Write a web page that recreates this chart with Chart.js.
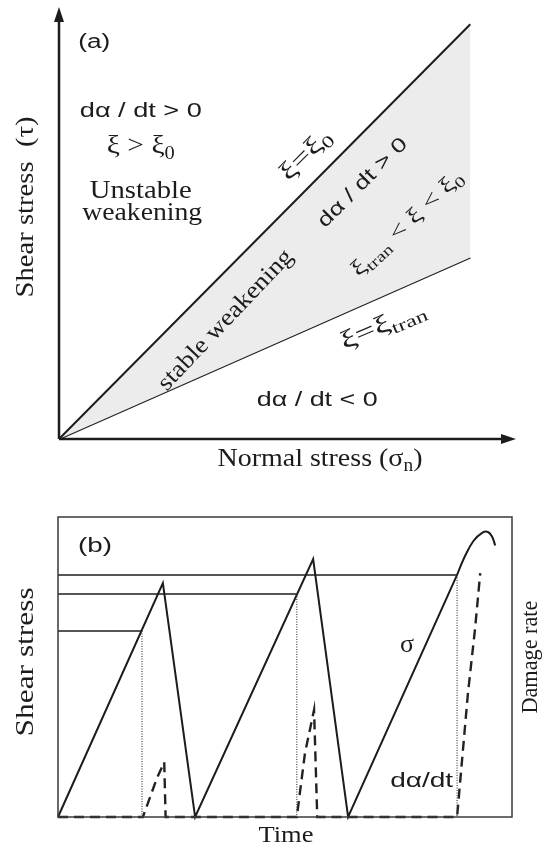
<!DOCTYPE html>
<html>
<head>
<meta charset="utf-8">
<script src="https://cdn.jsdelivr.net/npm/chart.js@4.4.1/dist/chart.umd.min.js"></script>
<style>
  html, body { margin: 0; padding: 0; background: #fff; }
  #wrap { position: relative; width: 542px; height: 846px; }
  canvas { position: absolute; left: 0; }
  #panelA { top: 0; }
  #panelB { top: 480px; }
</style>
</head>
<body>
<div id="wrap">
  <canvas id="panelA" width="542" height="480"></canvas>
  <canvas id="panelB" width="542" height="366"></canvas>
</div>
<script>
/* ---------------- DATA ---------------- */

// panel (a): failure envelopes in (normal stress, shear stress)
const normalStress = [0, 9];
const tauXi0 = [0, 9.6];      // xi = xi_0
const tauXiTran = [0, 4.2];   // xi = xi_tran

// panel (b): stress history vs time
const stressTime = [0, 23.1, 30.2, 56.2, 63.9, 87.9];
const stressValue = [0, 78, 0, 86, 0, 80.7];
const capTime = [87.9, 89.5, 91.5, 93.5, 94.7, 95.6, 96.3];
const capValue = [80.7, 86.5, 92, 94.8, 95, 93.5, 90.5];

const thresholdLevel = [62, 74.3, 80.7];
const thresholdTime = [18.5, 52.6, 87.9];

// damage rate (dashed)
const damageTime = [0, 18.7, 20.3, 21.8, 23.4, 23.7, 52.6, 54.4, 56.4, 57.1, 87.9, 89.0, 90.3, 91.9, 93.0];
const damageValue = [0, 0, 6.7, 13, 18.3, 0, 0, 21.3, 35.7, 0, 0, 19, 41.3, 63.3, 81.3];

/* ---------------- STYLE ---------------- */

const INK = "#1c1c1c";
const SANS = '"Liberation Sans", Arial, sans-serif';
const SERIF = '"Liberation Serif", "Times New Roman", serif';

function pts(xs, ys) {
  return xs.map((x, i) => ({ x: x, y: ys[i] }));
}

function line(data, extra) {
  return Object.assign({
    data: data,
    showLine: true,
    borderColor: INK,
    borderWidth: 2,
    pointRadius: 0,
    fill: false,
    clip: false,
    tension: 0
  }, extra || {});
}

function fontOf(L, sub) {
  const s = sub ? Math.round(L.size * 0.68) : L.size;
  return s + "px " + L.font;
}

function drawLabel(chart, L) {
  const ctx = chart.ctx;
  const px = chart.scales.x.getPixelForValue(L.x);
  const py = chart.scales.y.getPixelForValue(L.y);
  ctx.save();
  ctx.translate(px, py);
  if (L.angle) ctx.rotate(L.angle * Math.PI / 180);
  const widths = L.parts.map(p => { ctx.font = fontOf(L, p[1]); return ctx.measureText(p[0]).width; });
  const total = widths.reduce((a, b) => a + b, 0);
  if (L.len) ctx.scale(L.len / total, 1);
  ctx.textBaseline = "middle";
  ctx.fillStyle = INK;
  let cx = -total / 2;
  L.parts.forEach((p, i) => {
    ctx.font = fontOf(L, p[1]);
    ctx.fillText(p[0], cx, p[1] ? L.size * 0.3 : 0);
    cx += widths[i];
  });
  ctx.restore();
}

function arrow(ctx, x0, y0, x1, y1) {
  const a = Math.atan2(y1 - y0, x1 - x0);
  const len = 15, half = 5;
  ctx.beginPath();
  ctx.moveTo(x0, y0);
  ctx.lineTo(x1 - len * Math.cos(a), y1 - len * Math.sin(a));
  ctx.stroke();
  ctx.beginPath();
  ctx.moveTo(x1, y1);
  ctx.lineTo(x1 - len * Math.cos(a) + half * Math.sin(a), y1 - len * Math.sin(a) - half * Math.cos(a));
  ctx.lineTo(x1 - len * Math.cos(a) - half * Math.sin(a), y1 - len * Math.sin(a) + half * Math.cos(a));
  ctx.closePath();
  ctx.fill();
}

/* ---------------- LABELS ---------------- */

const labelsA = [
  { parts: [["(a)"]], x: 0.77, y: 9.19, font: SANS, size: 20, len: 32 },
  { parts: [["dα / dt > 0"]], x: 1.79, y: 7.59, font: SANS, size: 20, len: 122 },
  { parts: [["ξ > ξ"], ["0", 1]], x: 1.79, y: 6.78, font: SERIF, size: 26, len: 68 },
  { parts: [["Unstable"]], x: 1.79, y: 5.72, font: SERIF, size: 25, len: 102 },
  { parts: [["weakening"]], x: 1.82, y: 5.23, font: SERIF, size: 25, len: 120 },
  { parts: [["ξ=ξ"], ["0", 1]], x: 5.40, y: 6.57, font: SERIF, size: 25, len: 62, angle: -45 },
  { parts: [["dα / dt > 0"]], x: 6.65, y: 5.93, font: SANS, size: 20, len: 118, angle: -45 },
  { parts: [["ξ"], ["tran", 1], [" < ξ < ξ"], ["0", 1]], x: 7.62, y: 4.98, font: SERIF, size: 22, len: 144, angle: -43 },
  { parts: [["stable weakening"]], x: 3.65, y: 2.75, font: SERIF, size: 24, len: 185, angle: -46.5 },
  { parts: [["ξ=ξ"], ["tran", 1]], x: 7.09, y: 2.62, font: SERIF, size: 25, len: 90, angle: -23 },
  { parts: [["dα / dt < 0"]], x: 5.65, y: 0.90, font: SANS, size: 20, len: 121 },
  { parts: [["Normal stress (σ"], ["n", 1], [")"]], x: 5.71, y: -0.46, font: SERIF, size: 26, len: 205 },
  { parts: [["Shear stress  (τ)"]], x: -0.72, y: 5.37, font: SERIF, size: 26, len: 181, angle: -90 }
];

const labelsB = [
  { parts: [["(b)"]], x: 8.15, y: 90.3, font: SANS, size: 20, len: 34 },
  { parts: [["σ"]], x: 76.9, y: 57.3, font: SERIF, size: 26 },
  { parts: [["dα/dt"]], x: 80.1, y: 12, font: SANS, size: 20, len: 63 },
  { parts: [["Damage rate"]], x: 104.2, y: 53.3, font: SERIF, size: 23, len: 113, angle: -90 },
  { parts: [["Shear stress"]], x: -7.05, y: 51.7, font: SERIF, size: 26, len: 149, angle: -90 },
  { parts: [["Time"]], x: 50.2, y: -6.3, font: SERIF, size: 24, len: 55 }
];

/* ---------------- PLUGINS ---------------- */

const axesA = {
  id: "axesA",
  afterDatasetsDraw(chart) {
    const ctx = chart.ctx, xs = chart.scales.x, ys = chart.scales.y;
    const x0 = xs.getPixelForValue(0), y0 = ys.getPixelForValue(0);
    ctx.save();
    ctx.strokeStyle = INK;
    ctx.fillStyle = INK;
    ctx.lineWidth = 2.5;
    arrow(ctx, x0, y0, x0, ys.getPixelForValue(10));
    arrow(ctx, x0, y0, xs.getPixelForValue(10), y0);
    ctx.restore();
    labelsA.forEach(L => drawLabel(chart, L));
  }
};

const boxB = {
  id: "boxB",
  afterDatasetsDraw(chart) {
    const ctx = chart.ctx, a = chart.chartArea;
    ctx.save();
    ctx.strokeStyle = "#3a3a3a";
    ctx.lineWidth = 1.5;
    ctx.strokeRect(a.left, a.top, a.right - a.left, a.bottom - a.top);
    ctx.restore();
    labelsB.forEach(L => drawLabel(chart, L));
  }
};

const baseOptions = (pad, xMax, yMax) => ({
  responsive: false,
  animation: false,
  layout: { padding: pad },
  plugins: { legend: { display: false }, tooltip: { enabled: false } },
  scales: {
    x: { type: "linear", min: 0, max: xMax, display: false },
    y: { type: "linear", min: 0, max: yMax, display: false }
  }
});

/* ---------------- PANEL A ---------------- */

new Chart(document.getElementById("panelA"), {
  type: "scatter",
  data: {
    datasets: [
      line(pts(normalStress, tauXi0), { fill: "+1", backgroundColor: "#ececec" }),
      line(pts(normalStress, tauXiTran))
    ]
  },
  options: baseOptions({ left: 59, right: 26, top: 7, bottom: 41 }, 10, 10),
  plugins: [axesA]
});

/* ---------------- PANEL B ---------------- */

const thresholdSets = [];
thresholdLevel.forEach((lv, i) => {
  thresholdSets.push(line(pts([0, thresholdTime[i]], [lv, lv]), { borderWidth: 1.5 }));
  thresholdSets.push(line(pts([thresholdTime[i], thresholdTime[i]], [lv, 0]),
    { borderWidth: 1.2, borderColor: "#444", borderDash: [1, 1.5] }));
});

new Chart(document.getElementById("panelB"), {
  type: "scatter",
  data: {
    datasets: thresholdSets.concat([
      line(pts(damageTime, damageValue), { borderWidth: 2.4, borderDash: [10, 6], borderColor: "#222" }),
      line(pts(stressTime, stressValue), { borderWidth: 2 }),
      line(pts(capTime, capValue), { borderWidth: 2, tension: 0.4 })
    ])
  },
  options: baseOptions({ left: 58, right: 30, top: 37, bottom: 29 }, 100, 100),
  plugins: [boxB]
});
</script>
</body>
</html>
